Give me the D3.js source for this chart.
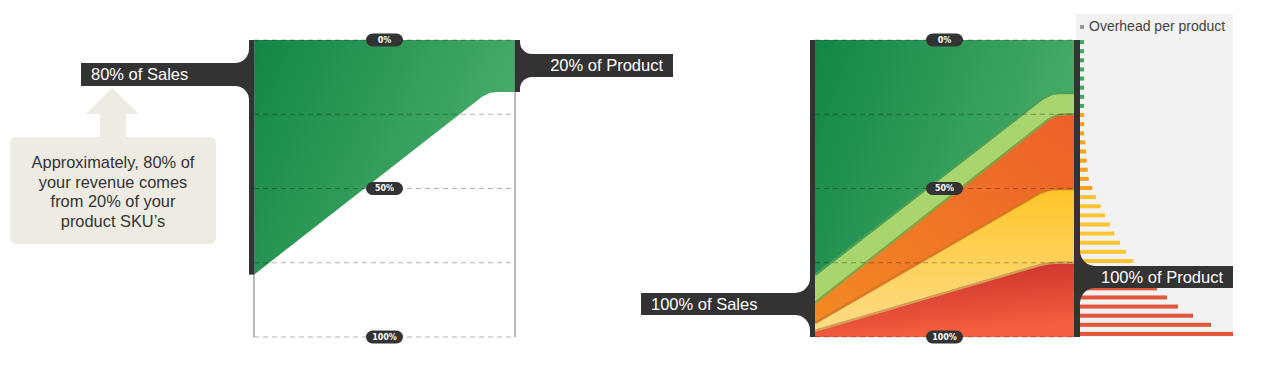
<!DOCTYPE html>
<html>
<head>
<meta charset="utf-8">
<script src="https://cdn.jsdelivr.net/npm/d3@7"></script>
<style>
  html, body { margin: 0; padding: 0; background: #fff; }
  svg { display: block; font-family: "Liberation Sans", Arial, sans-serif; }
</style>
</head>
<body>
<svg id="chart" width="1280" height="372"></svg>
<script>
// x = share of products, y = cumulative share of sales (0 at top)
const paretoCurve = [[0, 0.79], [0.875, 0.19], [0.905, 0.178], [0.935, 0.175], [1, 0.175]];

// right chart: layer top edges, top to bottom
const layerNames = ["Best sellers", "Good", "Average", "Slow", "Losers"];
const layerEdges = [
  [[0, 0], [1, 0]],
  [[0, 0.788], [0.88, 0.193], [0.915, 0.178], [0.945, 0.175], [1, 0.175]],
  [[0, 0.881], [0.9, 0.265], [0.935, 0.25], [0.965, 0.247], [1, 0.247]],
  [[0, 0.949], [0.87, 0.511], [0.905, 0.5], [0.935, 0.498], [1, 0.498]],
  [[0, 0.976], [0.87, 0.754], [0.905, 0.748], [0.935, 0.747], [1, 0.747]]
];
const layerFills = ["url(#gGreen)", "#a8d56e", "url(#gOrange)", "url(#gYellow)", "url(#gRed)"];
const layerShadows = [null, "#3d9653", "#78a84a", "#d2691c", "#d3ad5a"];

const gridTicks = [0, 0.25, 0.5, 0.75, 1];
const pillTicks = [0, 0.5, 1];
const pillLabels = ["0%", "50%", "100%"];

// overhead per product, one bar per product row
const overheadValues = [4, 4, 4, 4, 4, 4, 4, 4,
  4, 4.3, 4.3, 5.3, 6, 6.7, 7.7, 8.7, 12.3,
  16, 20.7, 25, 30, 34.3, 40, 46, 53.3,
  61, 69, 77, 87, 98, 113, 131, 153];
const overheadGroups = ["g", "g", "g", "g", "g", "g", "g", "g",
  "o", "o", "o", "o", "o", "o", "o", "o", "o",
  "y", "y", "y", "y", "y", "y", "y", "y",
  "r", "r", "r", "r", "r", "r", "r", "r"];
const groupColors = { g: "#41a863", o: "#f7a11c", y: "#fdc531", r: "#e2563c" };

const calloutLines = ["Approximately, 80% of", "your revenue comes", "from 20% of your", "product SKU’s"];

const svg = d3.select("#chart");
const defs = svg.append("defs");
const dark = "#333333";

function grad(id, x1, y1, x2, y2, stops) {
    const g = defs.append("linearGradient").attr("id", id)
        .attr("x1", x1).attr("y1", y1).attr("x2", x2).attr("y2", y2);
    stops.forEach(([o, c]) => g.append("stop").attr("offset", o).attr("stop-color", c));
}
grad("gGreen", 0, 0, 1, 0.4, [[0, "#138645"], [1, "#4aae6b"]]);
grad("gOrange", 0, 1, 1, 0, [[0, "#f38b22"], [1, "#ed5f2a"]]);
grad("gYellow", 0, 0, 0, 1, [[0, "#ffc52a"], [1, "#fbdd8c"]]);
grad("gRed", 0, 0, 0.3, 1, [[0, "#c22a2a"], [1, "#f45d3d"]]);

const yS = d3.scaleLinear().domain([0, 1]).range([40, 337]);
const leftX = d3.scaleLinear().domain([0, 1]).range([254, 515]);
const rightX = d3.scaleLinear().domain([0, 1]).range([815, 1074]);

function grid(xs) {
    svg.append("g").selectAll("line").data(gridTicks).enter().append("line")
        .attr("x1", xs(0)).attr("x2", xs(1))
        .attr("y1", d => yS(d)).attr("y2", d => yS(d))
        .attr("stroke", "#000").attr("stroke-opacity", 0.3)
        .attr("stroke-dasharray", "5,4");
}

function pills(xs) {
    const cx = (xs(0) + xs(1)) / 2;
    const g = svg.append("g").selectAll("g").data(pillTicks).enter().append("g")
        .attr("transform", d => `translate(${cx},${yS(d)})`);
    g.append("rect").attr("x", -18.5).attr("y", -6.5).attr("width", 37).attr("height", 13)
        .attr("rx", 6.5).attr("fill", dark);
    g.append("text").attr("text-anchor", "middle").attr("dy", "0.36em")
        .style("font-family", "'DejaVu Sans', sans-serif").style("font-weight", "bold")
        .style("font-size", "8px").attr("fill", "#fff")
        .text((d, i) => pillLabels[i]);
}

// label box joined to a vertical bar with concave fillets
function tag(side, barX, outerX, top, bottom, r, label) {
    let p;
    if (side === "left") {
        p = `M${outerX},${top}L${barX - r},${top}A${r},${r} 0 0 0 ${barX},${top - r}` +
            `L${barX},${bottom + r}A${r},${r} 0 0 0 ${barX - r},${bottom}L${outerX},${bottom}Z`;
    } else {
        p = `M${outerX},${top}L${barX + r},${top}A${r},${r} 0 0 1 ${barX},${top - r}` +
            `L${barX},${bottom + r}A${r},${r} 0 0 1 ${barX + r},${bottom}L${outerX},${bottom}Z`;
    }
    svg.append("path").attr("d", p).attr("fill", dark);
    svg.append("text")
        .attr("x", side === "left" ? outerX + 10 : outerX - 10)
        .attr("y", (top + bottom) / 2).attr("dy", "0.35em")
        .attr("text-anchor", side === "left" ? "start" : "end")
        .attr("fill", "#fff").style("font-size", "16.5px")
        .text(label);
}

function vbar(x, y0, y1) {
    svg.append("rect").attr("x", x).attr("y", yS(y0)).attr("width", 5)
        .attr("height", yS(y1) - yS(y0)).attr("fill", dark);
}

// ---------- left chart ----------
const leftArea = d3.area()
    .x(d => leftX(d[0])).y0(yS(0)).y1(d => yS(d[1]));
svg.append("path").datum(paretoCurve).attr("d", leftArea).attr("fill", "url(#gGreen)");

[0, 1].forEach(v => svg.append("line")
    .attr("x1", leftX(v)).attr("x2", leftX(v)).attr("y1", yS(0)).attr("y2", yS(1))
    .attr("stroke", "#777").attr("stroke-width", 1));
grid(leftX);
vbar(leftX(0) - 5, 0, paretoCurve[0][1]);
vbar(leftX(1), 0, paretoCurve[paretoCurve.length - 1][1]);
tag("left", leftX(0) - 5, 81, 63, 86, 14, "80% of Sales");
tag("right", leftX(1) + 5, 673, 54, 77, 12, "20% of Product");
pills(leftX);

// callout
svg.append("path")
    .attr("d", "M112,88L139,114L126,114L126,140L100,140L100,114L86,114Z")
    .attr("fill", "#eeebe3");
svg.append("rect").attr("x", 10).attr("y", 137).attr("width", 206).attr("height", 107)
    .attr("rx", 6).attr("fill", "#eeebe3");
svg.append("text").attr("text-anchor", "middle").attr("fill", "#333")
    .style("font-size", "16.4px")
    .selectAll("tspan").data(calloutLines).enter().append("tspan")
    .attr("x", 113).attr("y", (d, i) => 168 + i * 19.7).text(d => d);

// ---------- right chart ----------
const rightArea = d3.area()
    .x(d => rightX(d[0])).y0(yS(1)).y1(d => yS(d[1]));
const edgeLine = d3.line().x(d => rightX(d[0])).y(d => yS(d[1]) + 1);
layerEdges.forEach((edge, i) => {
    svg.append("path").datum(edge).attr("class", "layer")
        .attr("d", rightArea).attr("fill", layerFills[i])
        .append("title").text(layerNames[i]);
    if (layerShadows[i]) {
        svg.append("path").datum(edge).attr("d", edgeLine)
            .attr("fill", "none").attr("stroke", layerShadows[i])
            .attr("stroke-width", 2.5).attr("stroke-opacity", 0.85);
    }
});
grid(rightX);

// overhead panel
svg.append("rect").attr("x", 1076).attr("y", 14).attr("width", 157).attr("height", 323)
    .attr("fill", "#f2f2f2");
const barX = d3.scaleLinear().domain([0, d3.max(overheadValues)]).range([0, 153]);
const barY = d3.scaleBand().domain(d3.range(overheadValues.length))
    .range([37.5, 338.5]).paddingInner(0.56).paddingOuter(0.28);
svg.append("g").selectAll("rect").data(overheadValues).enter().append("rect")
    .attr("x", 1080).attr("y", (d, i) => barY(i))
    .attr("width", d => barX(d)).attr("height", barY.bandwidth())
    .attr("fill", (d, i) => groupColors[overheadGroups[i]]);
svg.append("rect").attr("x", 1080).attr("y", 25).attr("width", 4).attr("height", 4).attr("fill", "#999");
svg.append("text").attr("x", 1089).attr("y", 31).attr("fill", "#444")
    .style("font-size", "14px").text("Overhead per product");

vbar(rightX(0) - 5, 0, 1);
svg.append("rect").attr("x", rightX(1)).attr("y", yS(0)).attr("width", 6)
    .attr("height", yS(1) - yS(0)).attr("fill", dark);
tag("left", rightX(0) - 5, 641, 293, 315, 15, "100% of Sales");
tag("right", rightX(1) + 6, 1233, 266, 288, 15, "100% of Product");
pills(rightX);
</script>
</body>
</html>
